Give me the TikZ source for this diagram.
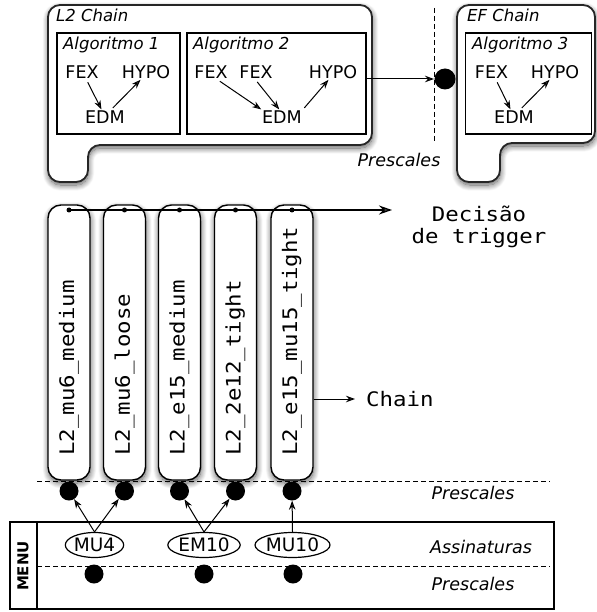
\documentclass[tikz,border=0pt]{standalone}
\usepackage{fontspec}
\setmainfont{DejaVu Sans}
\newfontfamily\monof{DejaVu Sans Mono}[FakeStretch=1.12]
\usetikzlibrary{arrows.meta,shadows.blur,shapes.geometric}
\newcommand\setfs[1]{\fontsize{#1}{#1}\selectfont}
\tikzset{
  shad/.style={blur shadow={shadow xshift=0.5pt, shadow yshift=-3pt, shadow blur radius=6pt, shadow blur steps=12, shadow opacity=65}},
  chainbox/.style={draw=black!85, line width=1.8pt, fill=white, rounded corners=12pt, shad},
  algbox/.style={draw, line width=1.7pt, inner sep=0pt},
  algtxt/.style={font=\itshape\setfs{16.5}, anchor=west, inner sep=0pt},
  sidetxt/.style={font=\itshape\setfs{17.5}, inner sep=0pt},
  ctxt/.style={font=\setfs{17.5}, inner sep=1pt},
  pill/.style={draw, line width=1.4pt, fill=white, rounded corners=13pt, minimum width=42pt, minimum height=275pt, inner sep=0pt, shad},
  pilltxt/.style={font=\monof\setfs{20}, rotate=90, anchor=west, inner sep=0pt},
  sdot/.style={circle, fill, inner sep=0pt, minimum size=5pt},
  bdot/.style={circle, fill, inner sep=0pt, minimum size=19pt},
  sig/.style={ellipse, draw, line width=1.2pt, fill=white, inner sep=0pt, minimum width=58pt, minimum height=25pt, font=\setfs{18.5}},
  arr/.style={-{Stealth[length=9pt,width=6.5pt]}, line width=1pt},
  bigarr/.style={-{Stealth[length=13pt,width=9pt]}, line width=1.3pt},
  dsh/.style={dashed, line width=1pt, dash pattern=on 5pt off 3pt},
}
\begin{document}
\begin{tikzpicture}[x=1pt,y=-1pt]
\useasboundingbox (0,0) rectangle (596,612);

% chain boxes
\path[chainbox] (48,5) -- (372,5) -- (372,145) -- (88,145) -- (88,182) -- (48,182) -- cycle;
\path[chainbox] (457,5) -- (595,5) -- (595,143) -- (500,143) -- (500,182) -- (457,182) -- cycle;
\node[algtxt] (l2c) at (56,15) {L2 Chain};
\node[algtxt] (efc) at (467,15) {EF Chain};

% algorithm boxes
\node[algbox, minimum width=123pt, minimum height=101pt] (a1) at (118.5,83.5) {};
\node[algbox, minimum width=179pt, minimum height=101pt] (a2) at (276.5,83.5) {};
\node[algbox, minimum width=126pt, minimum height=101pt] (a3) at (528.5,83.5) {};
\node[algtxt] (a1t) at (63,45) {Algoritmo 1};
\node[algtxt] (a2t) at (193,45) {Algoritmo 2};
\node[algtxt] (a3t) at (472,45) {Algoritmo 3};

% Algoritmo 1
\node[ctxt] (f1) at (82,72) {FEX};
\node[ctxt] (h1) at (146,72) {HYPO};
\node[ctxt] (e1) at (105,117) {EDM};
\draw[arr, shorten <=3pt] (f1.-60) -- (e1.115);
\draw[arr, shorten <=2pt] (e1.50) -- (h1.235);
% Algoritmo 2
\node[ctxt] (f2a) at (211,72) {FEX};
\node[ctxt] (f2b) at (256,72) {FEX};
\node[ctxt] (h2) at (333,72) {HYPO};
\node[ctxt] (e2) at (282,117) {EDM};
\draw[arr, shorten <=3pt] (f2a.-50) -- (e2.160);
\draw[arr, shorten <=3pt] (f2b.-95) -- (e2.110);
\draw[arr, shorten <=2pt] (e2.north east) -- (h2.240);
% Algoritmo 3
\node[ctxt] (f3) at (491.5,72) {FEX};
\node[ctxt] (h3) at (555,72) {HYPO};
\node[ctxt] (e3) at (514,117) {EDM};
\draw[arr, shorten <=3pt] (f3.-60) -- (e3.115);
\draw[arr, shorten <=2pt] (e3.50) -- (h3.235);

% prescale between L2 and EF
\coordinate (vtop) at (434,8);
\coordinate (vbot) at (434,143);
\draw[dsh] (vtop) -- (vbot);
\node[bdot, minimum size=21pt] (pd) at (445,79) {};
\draw[arr] (a2.east |- pd) -- (vtop |- pd);
\node[sidetxt] (ps0) at (399,160) {Prescales};

% chains (pills)
\foreach \i/\x/\t in {1/69/L2\_mu6\_medium, 2/124.5/L2\_mu6\_loose, 3/179.5/L2\_e15\_medium, 4/235.5/L2\_2e12\_tight, 5/292/L2\_e15\_mu15\_tight}{
  \node[pill] (p\i) at (\x,342.5) {};
  \node[pilltxt] (pt\i) at (\x,456) {\t};
  \node[sdot] (t\i) at (\x,210) {};
}
\coordinate (decend) at (392,210);
\draw[bigarr] (t1.center) -- (decend);
\node[font=\monof\setfs{20}, align=center, inner sep=0pt] (dec) at (479,227) {Decisão\\[2pt]de trigger};
\coordinate (chainend) at (355,399);
\draw[arr] (p5.east |- chainend) -- (chainend);
\node[font=\monof\setfs{20}, anchor=west, inner sep=0pt] (chn) at (366,399) {Chain};

% prescales under pills
\coordinate (dl1) at (37,481);
\coordinate (dr1) at (550,481);
\draw[dsh] (dl1) -- (dr1);
\foreach \i/\x in {1/69, 2/124.5, 3/179.5, 4/235.5, 5/292}{
  \node[bdot] (b\i) at (\x,491) {};
}
\node[sidetxt] (ps1) at (473,493) {Prescales};

% menu
\node[draw, line width=1.3pt, minimum width=544pt, minimum height=87pt, inner sep=0pt] (menu) at (282,565.5) {};
\coordinate (mvt) at (37,522);
\coordinate (mvb) at (37,609);
\draw[line width=1.3pt] (mvt) -- (mvb);
\node[font=\bfseries\setfs{15}, rotate=90, inner sep=0pt] (mlab) at (23,566) {MENU};
\coordinate (dl2) at (37,566);
\coordinate (dr2) at (550,566);
\draw[dsh] (dl2) -- (dr2);
\foreach \i/\x in {1/94, 2/204, 3/293}{
  \node[bdot] (m\i) at (\x,574) {};
}
\node[sig] (s1) at (94.5,545) {MU4};
\node[sig] (s2) at (204,545) {EM10};
\node[sig] (s3) at (292.5,545) {MU10};
\draw[arr] (s1.north) -- (b1);
\draw[arr] (s1.north) -- (b2);
\draw[arr] (s2.north) -- (b3);
\draw[arr] (s2.north) -- (b4);
\draw[arr] (s3.north) -- (b5);
\node[sidetxt] (asn) at (481,547) {Assinaturas};
\node[sidetxt] (ps2) at (473,584) {Prescales};
\end{tikzpicture}
\end{document}
